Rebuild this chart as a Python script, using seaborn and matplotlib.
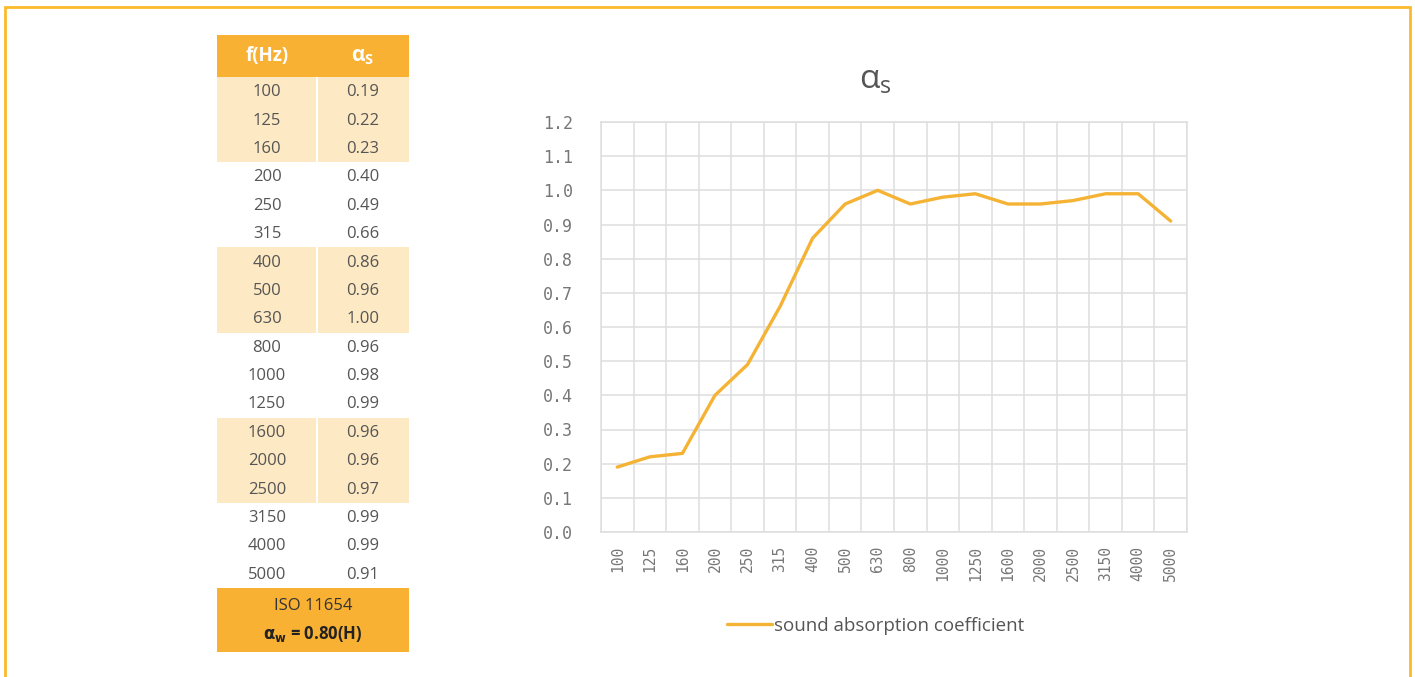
import matplotlib
matplotlib.use("Agg")
import matplotlib.pyplot as plt
import matplotlib.patches as mpatches
from matplotlib.lines import Line2D
import seaborn as sns
import pandas as pd

# Frequency bands (Hz) and measured sound absorption coefficients
freqs = ["100", "125", "160", "200", "250", "315", "400", "500", "630",
         "800", "1000", "1250", "1600", "2000", "2500", "3150", "4000", "5000"]
alpha_s = [0.19, 0.22, 0.23, 0.40, 0.49, 0.66, 0.86, 0.96, 1.00,
           0.96, 0.98, 0.99, 0.96, 0.96, 0.97, 0.99, 0.99, 0.91]
y_ticks = [0.0, 0.1, 0.2, 0.3, 0.4, 0.5, 0.6, 0.7, 0.8, 0.9, 1.0, 1.1, 1.2]
rating_line1 = "ISO 11654"
rating_line2 = r"$\mathbf{\alpha_w}$ = 0.80(H)"
series_label = "sound absorption coefficient"

ORANGE = "#F8B133"
LIGHT = "#FDE9C3"
LINE = "#F5B335"
TEXT = "#555555"
TICK = "#777777"
GRID = "#DEDEDE"

sns.set_theme(style="white")
plt.rcParams["font.family"] = ["Open Sans", "DejaVu Sans"]

W, H = 1415, 677
fig = plt.figure(figsize=(W / 100, H / 100), dpi=100)
fig.patch.set_facecolor("white")

# Outer frame
fig.patches.append(mpatches.Rectangle((5 / W, -0.01), 1405 / W, (H - 7) / H + 0.01,
                                      transform=fig.transFigure, fill=False,
                                      edgecolor="#FBBA2C", linewidth=2))

# ---- Data table -------------------------------------------------------
tx0, tx1 = 217, 409
ty0, ty1 = 35, 652
tab = fig.add_axes([tx0 / W, 1 - ty1 / H, (tx1 - tx0) / W, (ty1 - ty0) / H])
tab.set_xlim(tx0, tx1)
tab.set_ylim(ty1, ty0)
tab.axis("off")

header_h = 42
row_h = (588 - 77) / len(freqs)
colx = 317
tab.add_patch(mpatches.Rectangle((tx0, ty0), tx1 - tx0, header_h, color=ORANGE, lw=0))
tab.text((tx0 + colx) / 2, ty0 + header_h / 2, "f(Hz)", ha="center", va="center",
         color="white", fontsize=13.5, fontweight="bold")
tab.text((colx + tx1) / 2, ty0 + header_h / 2 + 1, r"$\mathregular{\alpha_S}$",
         ha="center", va="center", color="white", fontsize=15, fontweight="bold")

for i, (f, a) in enumerate(zip(freqs, alpha_s)):
    y = 77 + i * row_h
    if (i // 3) % 2 == 0:
        tab.add_patch(mpatches.Rectangle((tx0, y), colx - tx0 - 1, row_h, color=LIGHT, lw=0))
        tab.add_patch(mpatches.Rectangle((colx + 1, y), tx1 - colx - 1, row_h, color=LIGHT, lw=0))
    tab.text((tx0 + colx) / 2, y + row_h / 2 + 1, f, ha="center", va="center",
             color=TEXT, fontsize=12)
    tab.text((colx + tx1) / 2, y + row_h / 2 + 1, f"{a:.2f}", ha="center", va="center",
             color=TEXT, fontsize=12)

tab.add_patch(mpatches.Rectangle((tx0, 588), tx1 - tx0, ty1 - 588, color=ORANGE, lw=0))
tab.text((tx0 + tx1) / 2, 606, rating_line1, ha="center", va="center",
         color="#333333", fontsize=12)
tab.text((tx0 + tx1) / 2, 634, rating_line2, ha="center", va="center",
         color="#222222", fontsize=12, fontweight="bold")

# ---- Line chart -------------------------------------------------------
ax0, ax1 = 601, 1187
ay0, ay1 = 122, 532
ax = fig.add_axes([ax0 / W, 1 - ay1 / H, (ax1 - ax0) / W, (ay1 - ay0) / H])

df = pd.DataFrame({"pos": range(len(freqs)), "alpha": alpha_s})
sns.lineplot(data=df, x="pos", y="alpha", ax=ax, color=LINE, linewidth=2.4,
             legend=False)

ax.set_xlim(-0.5, len(freqs) - 0.5)
ax.set_ylim(0, 1.2)
ax.set_xticks(range(len(freqs)))
ax.set_xticklabels(freqs, rotation=90, family="DejaVu Sans Mono", fontsize=10.5,
                   color=TICK)
ax.set_yticks(y_ticks)
ax.set_yticklabels([f"{v:.1f}" for v in y_ticks], family="DejaVu Sans Mono",
                   fontsize=12, color=TICK)
ax.set_xticks([i - 0.5 for i in range(len(freqs) + 1)], minor=True)
ax.grid(False)
ax.grid(True, which="minor", axis="x", color=GRID, linewidth=1.1)
ax.grid(True, which="major", axis="y", color=GRID, linewidth=1.1)
ax.tick_params(axis="both", which="both", length=0)
ax.tick_params(axis="x", pad=10)
ax.tick_params(axis="y", pad=20)
for s in ax.spines.values():
    s.set_color(GRID)
    s.set_linewidth(1.1)
ax.set_xlabel("")
ax.set_ylabel("")
ax.set_axisbelow(True)

fig.text(875 / W, 1 - 80 / H, r"$\mathregular{\alpha_s}$", ha="center", va="center",
         color=TEXT, fontsize=24)

handle = Line2D([], [], color=LINE, linewidth=2.4)
fig.legend([handle], [series_label], loc="center", bbox_to_anchor=(876 / W, 1 - 626 / H),
           frameon=False, fontsize=13.5, handlelength=2.4, handletextpad=0.1,
           labelcolor=TEXT)

fig.savefig("out.png", dpi=100, facecolor="white")
